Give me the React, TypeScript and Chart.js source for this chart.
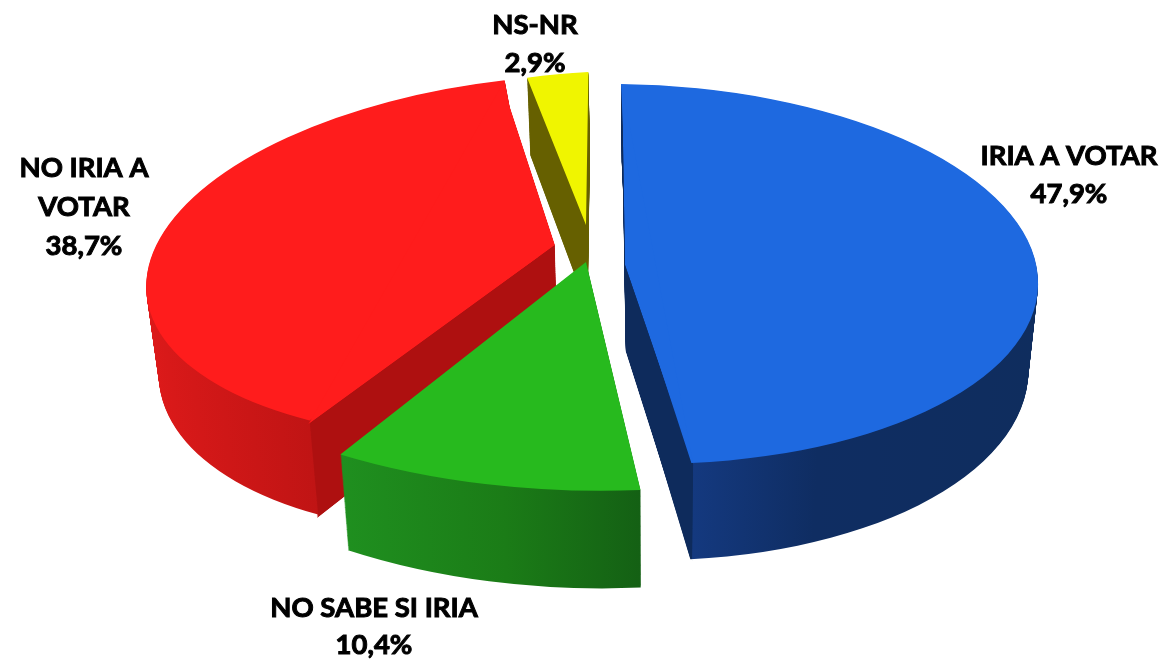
import React, { useEffect, useRef } from "react";
import { Chart, registerables } from "chart.js";

Chart.register(...registerables);

const categories = ["IRIA A VOTAR", "NO SABE SI IRIA", "NO IRIA A VOTAR", "NS-NR"];
const shares = [47.9, 10.4, 38.7, 2.9];
const labelLines = [["IRIA A VOTAR"], ["NO SABE SI IRIA"], ["NO IRIA A", "VOTAR"], ["NS-NR"]];

const topColors = ["#1e69e0", "#27ba1e", "#ff1c1c", "#f0f500"];
const sideStops: [number, string][][] = [
  [[0, "#0e2b5c"], [0.566, "#0e2b5c"], [0.567, "#14397f"], [0.72, "#0f2d62"], [1, "#0f2d5e"]],
  [[0, "#20901f"], [0.25, "#1f8f1f"], [0.42, "#1b7c17"], [0.566, "#146014"], [1, "#146014"]],
  [[0, "#dd1a1a"], [0.25, "#c01414"], [0.251, "#ae1010"], [1, "#ae1010"]],
  [[0, "#666000"], [1, "#666000"]],
];

type Frame = { x0: number; a: number; c: number; y0: number; b: number; d: number };

// Where each exploded slice sits: unit-circle x/y to page, per slice
const sliceFrames: Frame[] = [
  { x0: 630, a: 408, c: 9, y0: 274, b: 5, d: 190 },
  { x0: 586, a: 478, c: -7, y0: 262, b: 10.6, d: 228.6 },
  { x0: 538, a: 390, c: -38, y0: 257, b: -12, d: 182 },
  { x0: 586, a: 338, c: -2.4, y0: 225, b: -17.8, d: 153 },
];
// Second placement of the straight-edged core of a slice (perspective of the tip)
const coreFrames: (Frame | null)[] = [
  { x0: 625, a: 508, c: 3, y0: 265, b: 163, d: 180 },
  null,
  { x0: 555, a: 443, c: -28.3, y0: 245, b: -57, d: 174 },
  null,
];
const paintOrder = [3, 2, 0, 1];
const depthLayers = 100;

const labelAnchors = [
  { x: 1069, y: [165, 203] },
  { x: 374, y: [617, 654] },
  { x: 84, y: [177, 216, 255] },
  { x: 535, y: [34, 72] },
];

const formatShare = (v: number) => v.toFixed(1).replace(".", ",") + "%";

const pie3d = {
  id: "pie3d",
  beforeDatasetsDraw(chart: any) {
    const ctx = chart.ctx;
    const arcs = chart.getDatasetMeta(0).data;
    for (const i of paintOrder) {
      const el = arcs[i];
      const R = el.outerRadius;
      const original = el.options;
      const place = (t: number, f: Frame) => {
        ctx.save();
        ctx.transform(1 - 0.025 * t, 0, 0, 1 + 0.05 * t, 650 * 0.025 * t, t * 73);
        ctx.transform(f.a / R, f.b / R, f.c / R, f.d / R, f.x0, f.y0);
        ctx.translate(-el.x, -el.y);
      };
      const drawBoth = (t: number) => {
        place(t, sliceFrames[i]);
        el.draw(ctx);
        ctx.restore();
        const core = coreFrames[i];
        if (core) {
          place(t, core);
          ctx.beginPath();
          ctx.moveTo(el.x, el.y);
          ctx.lineTo(el.x + R * Math.cos(el.startAngle), el.y + R * Math.sin(el.startAngle));
          ctx.lineTo(el.x + R * Math.cos(el.endAngle), el.y + R * Math.sin(el.endAngle));
          ctx.closePath();
          ctx.clip();
          el.draw(ctx);
          ctx.restore();
        }
      };
      const grad = ctx.createLinearGradient(el.x - R, 0, el.x + R, 0);
      sideStops[i].forEach(([p, col]) => grad.addColorStop(p, col));
      el.options = { ...original, backgroundColor: grad };
      for (let k = depthLayers; k > 0; k--) drawBoth(k / depthLayers);
      el.options = original;
      drawBoth(0);
    }
  },
  beforeDatasetDraw() {
    return false;
  },
  afterDraw(chart: any) {
    const ctx = chart.ctx;
    ctx.save();
    ctx.font = "bold 27.5px Lato";
    ctx.textAlign = "center";
    ctx.textBaseline = "alphabetic";
    ctx.fillStyle = "#000";
    ctx.strokeStyle = "#000";
    ctx.lineWidth = 1;
    labelLines.forEach((lines, i) => {
      const all = [...lines, formatShare(shares[i])];
      all.forEach((line, j) => {
        ctx.fillText(line, labelAnchors[i].x, labelAnchors[i].y[j]);
        ctx.strokeText(line, labelAnchors[i].x, labelAnchors[i].y[j]);
      });
    });
    ctx.restore();
  },
};

export default function App() {
  const ref = useRef<HTMLCanvasElement>(null);
  useEffect(() => {
    const chart = new Chart(ref.current as HTMLCanvasElement, {
      type: "pie",
      data: {
        labels: categories,
        datasets: [{ data: shares, backgroundColor: topColors, borderWidth: 0 }],
      },
      options: {
        responsive: false,
        animation: false,
        layout: { padding: 0 },
        plugins: { legend: { display: false }, tooltip: { enabled: false } },
      },
      plugins: [pie3d],
    } as any);
    return () => chart.destroy();
  }, []);
  return (
    <div style={{ position: "fixed", left: 0, top: 0, background: "#fff" }}>
      <canvas ref={ref} width={1161} height={662} style={{ display: "block" }} />
    </div>
  );
}
